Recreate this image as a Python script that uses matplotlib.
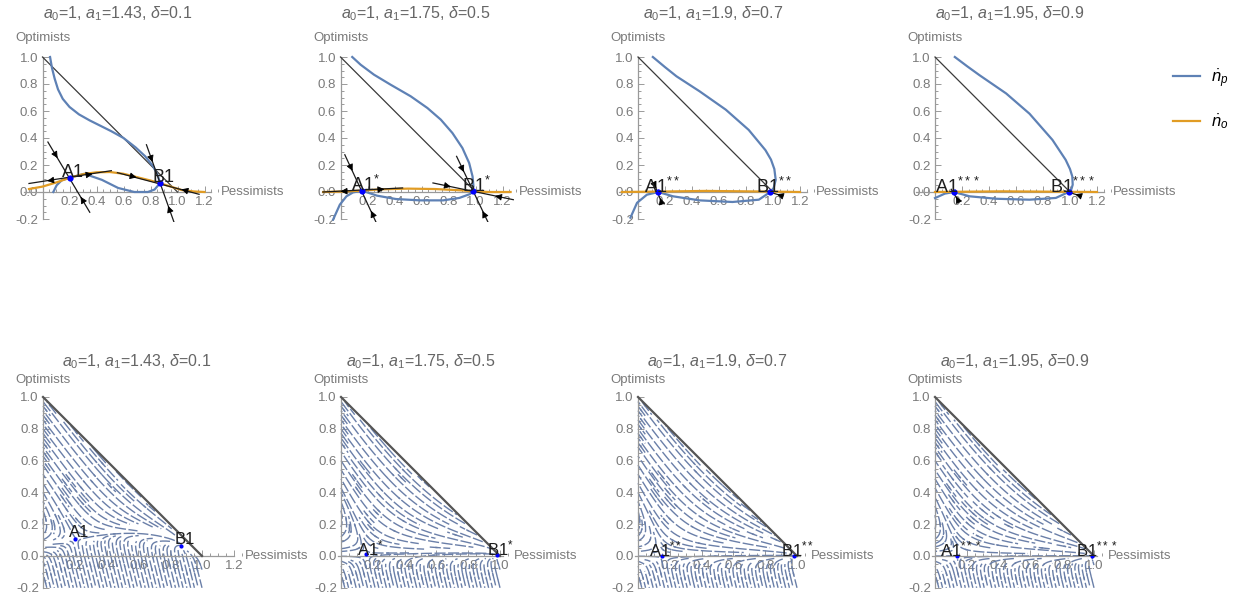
import numpy as np
import matplotlib
matplotlib.use('Agg')
import matplotlib.pyplot as plt
from matplotlib.ticker import MultipleLocator

plt.rcParams['font.family'] = ['Liberation Sans', 'DejaVu Sans']
plt.rcParams['mathtext.fontset'] = 'custom'
plt.rcParams['mathtext.rm'] = 'Liberation Sans'
plt.rcParams['mathtext.it'] = 'Liberation Sans:italic'

# parameter sets, one per column
a0 = [1, 1, 1, 1]
a1 = [1.43, 1.75, 1.9, 1.95]
delta = [0.1, 0.5, 0.7, 0.9]
stars = ['', '*', '**', '***']

# equilibria (pessimists, optimists)
eq_A = [(0.20, 0.105), (0.16, 0.01), (0.15, 0.0), (0.14, 0.0)]
eq_B = [(0.87, 0.065), (0.98, 0.005), (0.98, 0.0), (0.99, 0.0)]

# n_p nullcline, upper branch
np_upper_x = [[0.056, 0.07, 0.09, 0.115, 0.15, 0.2, 0.27, 0.35, 0.43, 0.51, 0.6, 0.69, 0.76, 0.82, 0.855, 0.87],
              [0.087, 0.149, 0.248, 0.371, 0.52, 0.644, 0.743, 0.829, 0.903, 0.953, 0.978, 0.985, 0.978],
              [0.11, 0.2, 0.285, 0.456, 0.65, 0.82, 0.944, 0.985, 1.01, 1.02, 1.005, 0.98],
              [0.147, 0.24, 0.33, 0.527, 0.7, 0.87, 0.968, 1.0, 1.017, 1.02, 1.01, 0.99]]
np_upper_y = [[1.0, 0.92, 0.84, 0.76, 0.69, 0.63, 0.575, 0.53, 0.49, 0.45, 0.40, 0.33, 0.265, 0.19, 0.12, 0.065],
              [1.0, 0.943, 0.869, 0.795, 0.709, 0.622, 0.536, 0.437, 0.326, 0.215, 0.116, 0.042, 0.005],
              [1.0, 0.925, 0.857, 0.746, 0.61, 0.46, 0.31, 0.24, 0.17, 0.09, 0.03, 0.0],
              [1.0, 0.93, 0.865, 0.73, 0.58, 0.386, 0.238, 0.17, 0.115, 0.054, 0.02, 0.0]]

# n_p nullcline, lower branch
np_lower_x = [[0.08, 0.105, 0.143, 0.20, 0.31, 0.44, 0.56, 0.68, 0.78, 0.83, 0.87],
              [-0.055, -0.005, 0.044, 0.093, 0.16, 0.27, 0.41, 0.59, 0.76, 0.88, 0.96, 0.98],
              [-0.056, -0.007, 0.066, 0.15, 0.26, 0.456, 0.7, 0.895, 0.98],
              [0.0, 0.073, 0.14, 0.257, 0.453, 0.7, 0.895, 0.99]]
np_lower_y = [[0.0, 0.05, 0.087, 0.105, 0.135, 0.09, 0.03, 0.0, 0.0, 0.018, 0.065],
              [-0.205, -0.094, -0.032, -0.003, 0.01, -0.027, -0.052, -0.062, -0.062, -0.044, -0.015, 0.005],
              [-0.19, -0.08, -0.02, 0.0, -0.032, -0.062, -0.074, -0.057, 0.0],
              [-0.045, -0.012, 0.0, -0.032, -0.05, -0.057, -0.044, 0.0]]

# n_o nullcline
no_x = [[-0.1, 0.0, 0.1, 0.2, 0.3, 0.4, 0.5, 0.6, 0.7, 0.8, 0.87, 0.95, 1.03, 1.12, 1.2],
        [-0.13, 0.0, 0.16, 0.3, 0.5, 0.7, 0.9, 0.98, 1.1, 1.26],
        [-0.12, 0.15, 0.5, 0.98, 1.2],
        [0.0, 0.5, 1.2]]
no_y = [[0.022, 0.04, 0.07, 0.105, 0.132, 0.146, 0.148, 0.135, 0.11, 0.085, 0.065, 0.04, 0.015, 0.004, 0.0],
        [0.0, 0.003, 0.01, 0.02, 0.025, 0.022, 0.012, 0.005, 0.0, 0.0],
        [0.0, 0.003, 0.008, 0.003, 0.0],
        [0.0, 0.005, 0.0]]

# eigen-directions at the equilibria: (end1, end2), None where not drawn
eig_A_steep = [((0.04, 0.37), (0.35, -0.15)), ((0.032, 0.276), (0.28, -0.26)),
               ((0.125, 0.05), (0.175, -0.08)), ((0.12, 0.02), (0.17, -0.06))]
eig_A_flat = [((-0.10, 0.063), (0.51, 0.158)), ((-0.13, 0.0), (0.46, 0.03)), None, None]
eig_B_steep = [((0.77, 0.35), (0.98, -0.24)), ((0.86, 0.264), (1.11, -0.26)), None, None]
eig_B_flat = [((0.555, 0.143), (1.16, -0.017)), ((0.685, 0.067), (1.28, -0.057)),
              ((0.95, 0.008), (1.07, -0.03)), ((0.96, 0.008), (1.08, -0.03))]

# horizontal drift strength of the phase flow
drift = [1.5, 3.0, 3.0, 3.0]

BLUE = '#5e81b5'
ORANGE = '#e19c24'
STREAM = '#6a7fa8'
GRAY = '#7a7a7a'
W, H = 1242, 599

fig = plt.figure(figsize=(W / 100, H / 100), dpi=100)


def make_axes(x0, y0, sc, xlim, ylim):
    """Axes whose data origin sits at pixel (x0, y0), sc pixels per unit."""
    left = x0 + xlim[0] * sc
    right = x0 + xlim[1] * sc
    top = y0 - ylim[1] * sc
    bottom = y0 - ylim[0] * sc
    ax = fig.add_axes([left / W, 1 - bottom / H, (right - left) / W, (bottom - top) / H])
    ax.set_xlim(xlim)
    ax.set_ylim(ylim)
    ax.patch.set_alpha(0)
    return ax


def style_axes(ax, i, xend, sc, title_px, label_px):
    for s in ('top', 'right'):
        ax.spines[s].set_visible(False)
    for s in ('left', 'bottom'):
        ax.spines[s].set_position(('data', 0))
        ax.spines[s].set_color('#9a9a9a')
        ax.spines[s].set_linewidth(0.9)
    ax.spines['left'].set_bounds(-0.2, 1.0)
    ax.spines['bottom'].set_bounds(ax.get_xlim()[0], xend)
    ax.set_xticks(np.arange(0.2, xend + 0.01, 0.2))
    ax.set_yticks(np.arange(-0.2, 1.01, 0.2))
    ax.xaxis.set_minor_locator(MultipleLocator(0.05))
    ax.yaxis.set_minor_locator(MultipleLocator(0.05))
    ax.xaxis.set_major_formatter(lambda v, p: '%.1f' % v)
    ax.yaxis.set_major_formatter(lambda v, p: '%.1f' % (0 if abs(v) < 1e-9 else v))
    ax.tick_params(which='both', direction='in', color='#9a9a9a', width=0.7,
                   labelsize=9.5, labelcolor=GRAY)
    ax.tick_params(which='major', length=4, pad=3)
    ax.tick_params(which='minor', length=2)
    xmid = (ax.get_xlim()[0] + xend) / 2
    ax.text(xmid, 1.0 + title_px / sc, r'$a_0$=%g, $a_1$=%g, $\delta$=%g' % (a0[i], a1[i], delta[i]),
            ha='center', va='center', fontsize=11.5, color='#666666', clip_on=False)
    ax.text(0, 1.0 + label_px / sc, 'Optimists', ha='center', va='center',
            fontsize=9.5, color=GRAY, clip_on=False)
    ax.text(xend + 0.07, 0, 'Pessimists', ha='left', va='center',
            fontsize=9.5, color=GRAY, clip_on=False)


def arrow_head(ax, p, d):
    d = np.asarray(d, float)
    d = d / np.hypot(*d)
    p = np.asarray(p, float)
    ax.annotate('', xy=p, xytext=p - d * 0.03,
                arrowprops=dict(arrowstyle='-|>', color='k', lw=0.6,
                                mutation_scale=10, shrinkA=0, shrinkB=0), zorder=6)


def eigen_line(ax, seg, eq, stable):
    if seg is None:
        return
    (x1, y1), (x2, y2) = seg
    ax.plot([x1, x2], [y1, y2], color='#1a1a1a', lw=0.9, zorder=5)
    e = np.array(eq)
    for end in (np.array([x1, y1]), np.array([x2, y2])):
        v = end - e
        if np.hypot(*v) < 0.04:
            continue
        p = e + 0.55 * v
        arrow_head(ax, p, -v if stable else v)


def label_points(ax, i, fs, ms):
    for name, (x, y) in (('A1', eq_A[i]), ('B1', eq_B[i])):
        ax.plot(x, y, 'o', color='#0000ff', ms=ms, mec='none', zorder=7)
        txt = name + (r'$^{%s}$' % stars[i] if stars[i] else '')
        ax.text(x + 0.025, y + 0.04, txt, ha='center', va='center',
                fontsize=fs, color='#1e1e1e', zorder=8)


# top row: nullclines
top_origins = [42.5, 340.5, 638, 935]
for i, x0 in enumerate(top_origins):
    ax = make_axes(x0, 192, 135, (-0.14, 1.3), (-0.22, 1.03))
    style_axes(ax, i, 1.25, 135, 43, 19)
    ax.plot([0, 1], [1, 0], color='#3a3a3a', lw=0.9, zorder=3)
    ax.plot(np_upper_x[i], np_upper_y[i], color=BLUE, lw=1.6, zorder=4,
            label=r'$\dot{n}_p$')
    ax.plot(np_lower_x[i], np_lower_y[i], color=BLUE, lw=1.6, zorder=4)
    ax.plot(no_x[i], no_y[i], color=ORANGE, lw=1.6, zorder=4, label=r'$\dot{n}_o$')
    eigen_line(ax, eig_A_steep[i], eq_A[i], True)
    eigen_line(ax, eig_A_flat[i], eq_A[i], False)
    eigen_line(ax, eig_B_steep[i], eq_B[i], True)
    eigen_line(ax, eig_B_flat[i], eq_B[i], True)
    label_points(ax, i, 13, 4.5)
    if i == 3:
        handles, labels = ax.get_legend_handles_labels()

fig.legend(handles, labels, loc='upper left', bbox_to_anchor=(1158 / W, 1 - 52 / H),
           frameon=False, fontsize=12, handlelength=1.6, labelspacing=1.35,
           handletextpad=0.7)


def flow(X, Y, i):
    """Phase velocity around the n_o nullcline with drift between A and B."""
    h = np.interp(X, no_x[i], no_y[i])
    d = Y - h
    g = (X - eq_A[i][0]) * (eq_B[i][0] - X)
    s = np.where(d >= 0, 1 / (1 + np.abs(d) / 0.15), np.exp(np.minimum(d, 0) / 0.03))
    u = drift[i] * g * s + np.where(d >= 0, 0.8, 0.25) * d
    v = -d
    outside = X + np.maximum(Y, 0) > 1.0
    return np.ma.array(u, mask=outside), np.ma.array(v, mask=outside)


# bottom row: phase portraits
bottom_origins = [43, 341, 638, 935]
xs = np.linspace(0, 1.0, 160)
ys = np.linspace(-0.2, 1.0, 190)
X, Y = np.meshgrid(xs, ys)
for i, x0 in enumerate(bottom_origins):
    xend = 1.2 if i == 0 else 1.02
    ax = make_axes(x0, 556, 159, (-0.02, xend + 0.05), (-0.21, 1.01))
    style_axes(ax, i, xend, 159, 35, 17)
    U, V = flow(X, Y, i)
    sp = ax.streamplot(xs, ys, U, V, density=1.45, color=STREAM, linewidth=1.0,
                       arrowstyle='-', arrowsize=0.01, minlength=0.05, zorder=2)
    n = len(sp.lines.get_segments())
    # stagger the dash phase so neighbouring streams do not line up
    sp.lines.set_linestyle([((k * 3.7) % 10, (8, 1.8)) for k in range(n)])
    ax.plot([0, 1], [1, 0], color='#555555', lw=1.6, zorder=3)
    label_points(ax, i, 12, 3)

fig.savefig('out.png', dpi=100)
